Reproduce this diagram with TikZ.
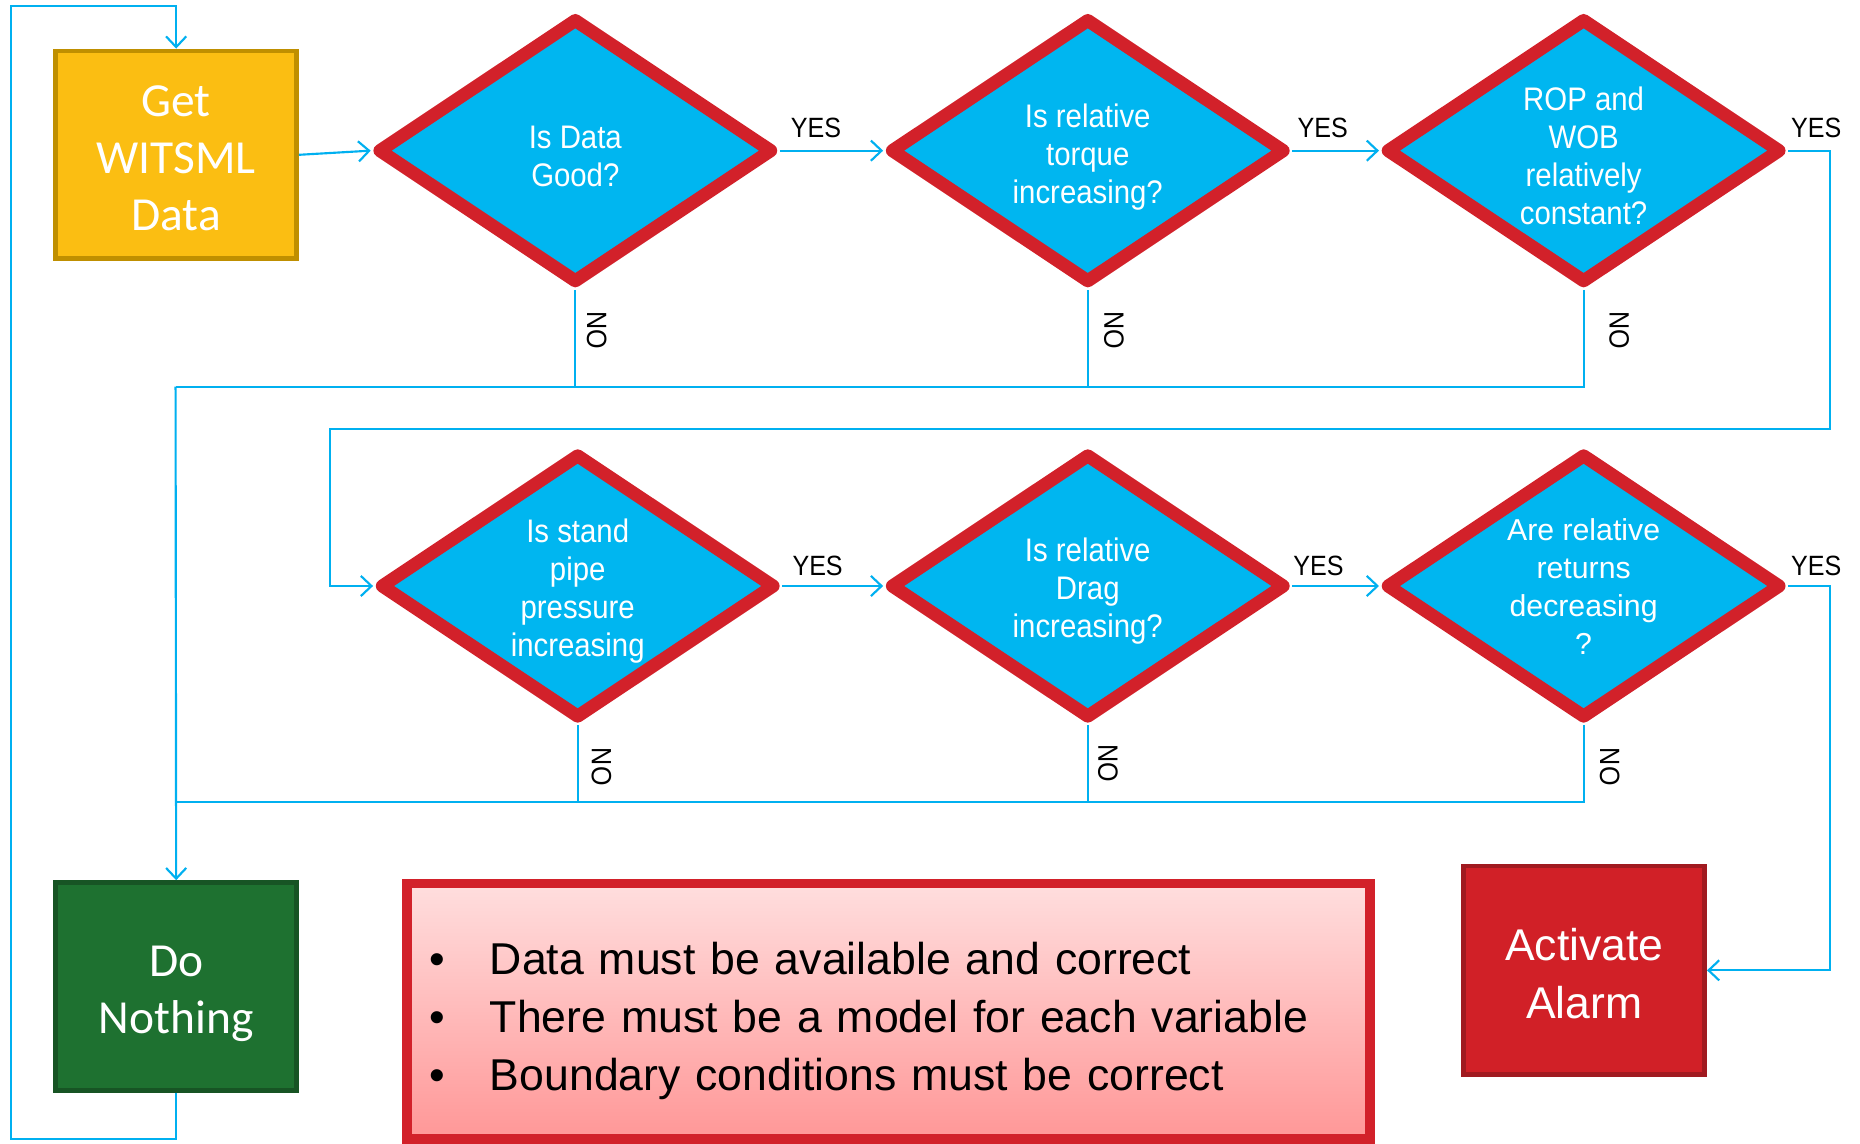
\documentclass[tikz,border=0pt]{standalone}
\usepackage{fontspec}
\setmainfont{Liberation Sans}
\newfontfamily\calfont{Carlito}
\newfontfamily\condfont[FakeStretch=0.9]{Liberation Sans}
\usetikzlibrary{shapes.geometric,arrows.meta,calc}
\definecolor{dcyan}{HTML}{00B6F0}
\definecolor{dred}{HTML}{D2212A}
\definecolor{lcyan}{HTML}{00B0F0}
\definecolor{gold}{HTML}{FBBE12}
\definecolor{golddk}{HTML}{BF8F00}
\definecolor{dgreen}{HTML}{1E7130}
\definecolor{dgreendk}{HTML}{175424}
\definecolor{alarmred}{HTML}{D12027}
\definecolor{alarmdk}{HTML}{A01A20}
\definecolor{pinktop}{HTML}{FFDEDE}
\definecolor{pinkbot}{HTML}{FF9797}
\newcommand{\mltext}[2]{\raisebox{#1}[\height][\depth]{\begin{tabular}{@{}c@{}}#2\end{tabular}}}
\tikzset{
  dia/.style={diamond, draw=dred, fill=dcyan, line width=11pt, line join=round,
    minimum width=334pt, minimum height=224pt, shape aspect=1.5, inner sep=0pt,
    text=white, font=\condfont\fontsize{27.5}{32}\selectfont},
  boxnode/.style={rectangle, line width=4pt, minimum width=203pt, minimum height=175pt,
    text=white, inner sep=0pt},
  conn/.style={draw=lcyan, line width=1.8pt, -{Straight Barb[length=9pt,width=17pt,line width=1.8pt]}},
  plain/.style={draw=lcyan, line width=1.8pt},
  yes/.style={font=\condfont\fontsize{23.5}{26}\selectfont, text=black, inner sep=0pt},
  no/.style={font=\condfont\fontsize{23.5}{26}\selectfont, text=black, inner sep=0pt, rotate=-90},
}
\begin{document}
\begin{tikzpicture}[x=1pt,y=-1pt]
\useasboundingbox[fill=white] (0,0) rectangle (1568,964);

% process boxes
\node[boxnode, draw=golddk, fill=gold, font=\calfont\fontsize{40}{48}\selectfont] (get) at (148.5,130.5) {\mltext{-6pt}{Get\\WITSML\\Data}};
\node[boxnode, draw=dgreendk, fill=dgreen, font=\calfont\fontsize{40}{48}\selectfont] (dn) at (148.5,831.5) {\mltext{-6pt}{Do\\Nothing}};
\node[boxnode, draw=alarmdk, fill=alarmred, minimum height=176pt, font=\fontsize{37.5}{49}\selectfont] (alarm) at (1335.5,818) {\mltext{-6pt}{Activate\\Alarm}};

% decisions
\node[dia] (d1) at (485,127) {\mltext{-8pt}{Is Data\\Good?}};
\node[dia] (d2) at (917,127) {\mltext{-6pt}{Is relative\\torque\\increasing?}};
\node[dia] (d3) at (1335,127) {\mltext{-7.5pt}{ROP and\\WOB\\relatively\\constant?}};
\node[dia] (d4) at (487,494) {\mltext{-5pt}{Is stand\\pipe\\pressure\\increasing}};
\node[dia] (d5) at (917,494) {\mltext{-5pt}{Is relative\\Drag\\increasing?}};
\node[dia, font=\rmfamily\fontsize{25.5}{32}\selectfont] (d6) at (1335,494) {\mltext{-3pt}{Are relative\\returns\\decreasing\\?}};

% notes
\node[rectangle, draw=dred, line width=8pt, top color=pinktop, bottom color=pinkbot,
  minimum width=812pt, minimum height=215pt, text width=774pt, align=left, inner sep=0pt,
  font=\fontsize{37.6}{49}\selectfont] (notes) at (749,852.5)
  {\raisebox{-8pt}[\height][\depth]{\begin{tabular}{@{}l@{}}%
   \makebox[51pt][l]{\textbullet}Data must be available and correct\\
   \makebox[51pt][l]{\textbullet}There must be a model for each variable\\
   \makebox[51pt][l]{\textbullet}Boundary conditions must be correct\end{tabular}}};

% routing coordinates
\coordinate (h1) at (148,326);
\coordinate (h2) at (148,676);
\coordinate (r1) at (1543,362);
\coordinate (l1) at (278,362);
\coordinate (r2) at (1543,818);
\coordinate (lb) at (9,960);
\coordinate (lt) at (9,5);

% YES connectors
\draw[conn] (get.east) -- (d1.west);
\draw[conn] (d1.east) -- (d2.west) node[yes, pos=0.35, yshift=19pt] {YES};
\draw[conn] (d2.east) -- (d3.west) node[yes, pos=0.35, yshift=19pt] {YES};
\draw[conn] (d3.east) node[yes, xshift=23.5pt, yshift=19pt] {YES} -| (r1) -- (l1) |- (d4.west);
\draw[conn] (d4.east) -- (d5.west) node[yes, pos=0.35, yshift=17pt] {YES};
\draw[conn] (d5.east) -- (d6.west) node[yes, pos=0.30, yshift=17pt] {YES};
\draw[conn] (d6.east) node[yes, xshift=23.5pt, yshift=17pt] {YES} -| (r2) -- (alarm.east);

% NO connectors
\draw[plain] (d1.south) |- (h1) node[xshift=18pt, no, pos=0.21] {NO};
\draw[plain] (d2.south) |- (h1) node[xshift=22pt, no, pos=0.21] {NO};
\draw[plain] (d3.south) |- (h1) node[xshift=30pt, no, pos=0.21] {NO};
\draw[plain] (d4.south) |- (h2) node[xshift=20pt, no, pos=0.27] {NO};
\draw[plain] (d5.south) |- (h2) node[xshift=17pt, no, pos=0.245] {NO};
\draw[plain] (d6.south) |- (h2) node[xshift=22pt, no, pos=0.27] {NO};
\draw[conn] (h1) -- (dn.north);

% loop back
\draw[conn] (dn.south) |- (lb) -- (lt) -| (get.north);
\end{tikzpicture}
\end{document}
